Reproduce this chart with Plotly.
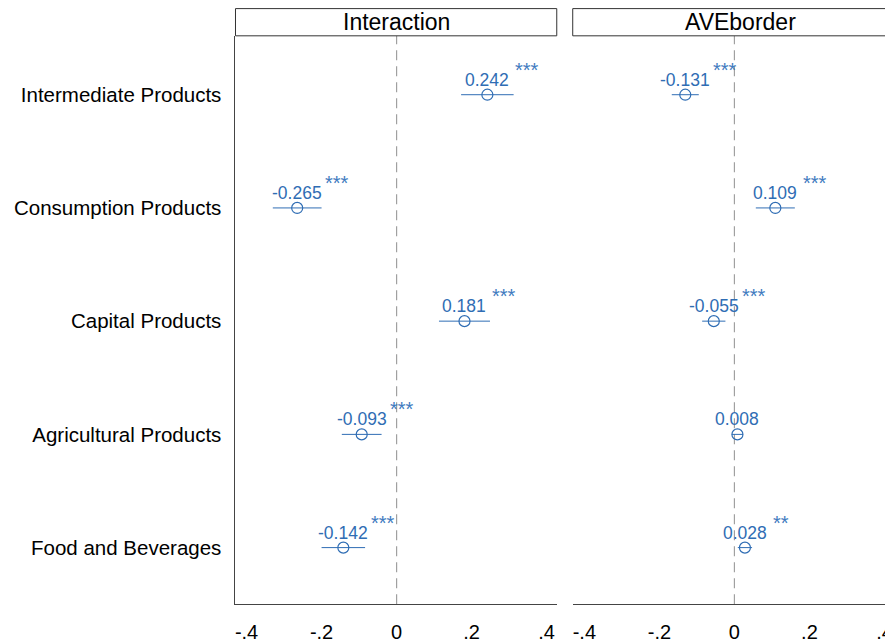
import plotly.graph_objects as go

categories = ["Intermediate Products", "Consumption Products", "Capital Products",
              "Agricultural Products", "Food and Beverages"]
panels = ["Interaction", "AVEborder"]
interaction_coef = [0.242, -0.265, 0.181, -0.093, -0.142]
interaction_ci = [0.070, 0.065, 0.068, 0.053, 0.058]
interaction_stars = ["***", "***", "***", "***", "***"]
aveborder_coef = [-0.131, 0.109, -0.055, 0.008, 0.028]
aveborder_ci = [0.036, 0.052, 0.031, 0.015, 0.019]
aveborder_stars = ["***", "***", "***", "", "**"]
tick_vals = [-0.4, -0.2, 0, 0.2, 0.4]
tick_text = ["-.4", "-.2", "0", ".2", ".4"]

OFF = 8  # page body margin
FW, FH = 893 - OFF, 643 - OFF
BLUE = "#2f6db4"
FONT = "Liberation Sans, Arial, Helvetica, sans-serif"


def px(xr):
    return (xr - OFF) / FW


def py(yr):
    return 1 - (yr - OFF) / FH


ypos = list(range(len(categories), 0, -1))

fig = go.Figure()

series = [(interaction_coef, interaction_ci, interaction_stars),
          (aveborder_coef, aveborder_ci, aveborder_stars)]
x_domains = [[px(235), px(557)], [px(573), 1.0]]
x_ranges = [[-0.4295, 0.427], [-0.431, 0.420]]
y_dom = [py(608), py(36)]
box_right = [px(557), 1.03]
title_center = [(px(235) + px(557)) / 2, (px(573) + px(910)) / 2]

for i, (coef, ci, stars) in enumerate(series):
    xa = "x" if i == 0 else "x2"
    ya = "y" if i == 0 else "y2"
    fig.add_trace(go.Scatter(
        x=coef, y=ypos, mode="markers", xaxis=xa, yaxis=ya,
        marker=dict(symbol="circle-open", size=11, color=BLUE, line=dict(width=1.2, color=BLUE)),
        error_x=dict(type="data", array=ci, symmetric=True, color=BLUE, thickness=1, width=0),
        showlegend=False, hoverinfo="skip"))
    for c, yv, s in zip(coef, ypos, stars):
        fig.add_annotation(x=c, y=yv, xref=xa, yref=ya, text=f"{c:.3f}", showarrow=False,
                           yshift=15, font=dict(family=FONT, size=17.5, color=BLUE))
        if s:
            fig.add_annotation(x=c, y=yv, xref=xa, yref=ya, text=s, showarrow=False,
                               xanchor="left", xshift=26, yshift=25,
                               font=dict(family=FONT, size=20, color="#3f7bc0"))
    fig.add_shape(type="line", xref=xa, yref=f"{ya} domain", x0=0, x1=0, y0=0, y1=1,
                  line=dict(color="#a0a0a0", width=1.2, dash="10px,6px"), layer="below")
    fig.add_shape(type="rect", xref="paper", yref="paper",
                  x0=x_domains[i][0], x1=box_right[i],
                  y0=y_dom[1], y1=1 - 0.6 / FH,
                  line=dict(color="#333333", width=1), fillcolor="white")
    fig.add_annotation(xref="paper", yref="paper", x=title_center[i],
                       y=(y_dom[1] + 1) / 2, xanchor="center", yanchor="middle",
                       text=panels[i], showarrow=False,
                       font=dict(family=FONT, size=23, color="black"))

axis_common = dict(tickvals=tick_vals, ticktext=tick_text, showgrid=False, zeroline=False,
                   showline=True, linecolor="#444444", linewidth=1, ticks="",
                   tickfont=dict(family=FONT, size=20, color="black"), ticklabelstandoff=10,
                   ticklabeloverflow="allow")

fig.update_layout(
    width=FW, height=FH, margin=dict(l=0, r=0, t=0, b=0),
    plot_bgcolor="white", paper_bgcolor="white",
    xaxis=dict(domain=x_domains[0], range=x_ranges[0], anchor="y", **axis_common),
    xaxis2=dict(domain=x_domains[1], range=x_ranges[1], anchor="y2", **axis_common),
    yaxis=dict(domain=y_dom, range=[0.5, 5.52], tickvals=ypos, ticktext=categories,
               showgrid=False, zeroline=False, showline=True, linecolor="#444444", linewidth=1,
               ticks="", tickfont=dict(family=FONT, size=20.5, color="black"), ticklabelstandoff=9,
               anchor="x"),
    yaxis2=dict(domain=y_dom, range=[0.5, 5.52], showticklabels=False, showgrid=False,
                zeroline=False, showline=False, anchor="x2"),
)

fig.write_html("out.html")
